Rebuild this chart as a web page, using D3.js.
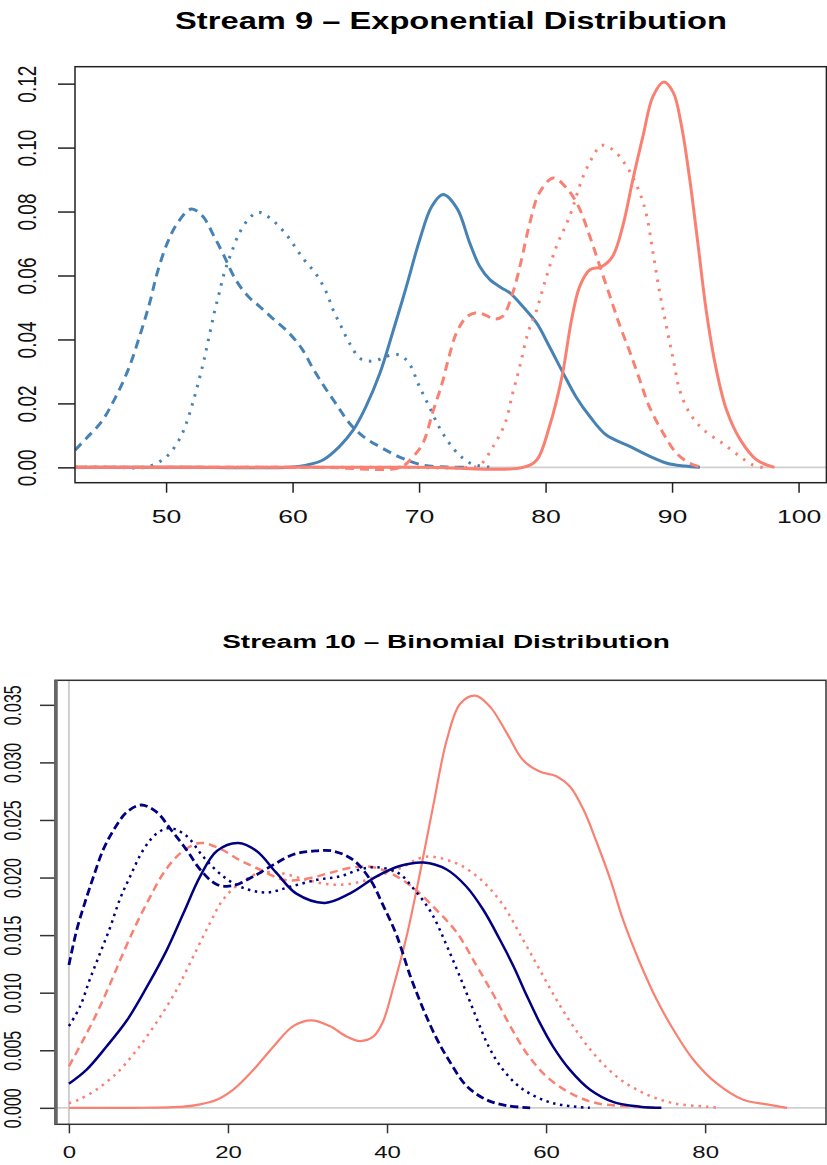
<!DOCTYPE html>
<html>
<head>
<meta charset="utf-8">
<script src="https://cdn.jsdelivr.net/npm/d3@7"></script>
<style>
  body { margin: 0; background: #fff; }
  svg { display: block; }
</style>
</head>
<body>
<div id="chart"></div>
<script>
// ---- Stream 9 : exponential, density curves as [x, density] ----
const exp_blue_solid = [[42.8,0],[52,0],[59.8,0],[61.1,0.0007],[62.4,0.0023],[63.7,0.0065],[64.8,0.0117],[65.8,0.019],[66.9,0.0294],[67.9,0.042],[69.0,0.0566],[70.05,0.0712],[71.0,0.0816],[71.9,0.0853],[73.0,0.081],[74.0,0.0702],[74.8,0.0628],[75.6,0.0587],[76.5,0.0562],[77.2,0.0545],[78.2,0.0503],[79.3,0.0451],[80.3,0.0378],[81.4,0.0294],[82.4,0.0221],[83.5,0.0159],[84.8,0.0101],[86.7,0.0065],[88.0,0.0039],[89.6,0.0013],[91.0,0.0004],[92.2,0]];
const exp_blue_dashed = [[42.8,0.0054],[43.7,0.0091],[44.9,0.0143],[45.9,0.0211],[47.0,0.0305],[47.9,0.0409],[48.7,0.0514],[49.3,0.0608],[50.1,0.0702],[50.9,0.0764],[52.0,0.0808],[52.9,0.0785],[53.8,0.0722],[54.6,0.066],[55.5,0.0587],[56.5,0.0534],[57.4,0.0503],[58.4,0.0467],[59.6,0.0425],[60.7,0.0373],[61.6,0.031],[62.5,0.0253],[63.5,0.0195],[64.5,0.0138],[65.6,0.0096],[67.1,0.006],[68.7,0.0028],[70.3,0.0007],[72.2,0.0001],[74.0,0]];
const exp_blue_dotted = [[42.8,0],[46,0],[48.3,0],[49.5,0.0018],[50.3,0.0044],[51.1,0.0091],[51.6,0.0138],[52.1,0.02],[52.6,0.0273],[53.0,0.0336],[53.4,0.0409],[53.8,0.0482],[54.2,0.0545],[54.6,0.0608],[55.15,0.067],[55.8,0.0733],[56.6,0.078],[57.3,0.0798],[58.2,0.078],[59.5,0.0728],[60.8,0.0655],[61.9,0.0602],[62.7,0.0545],[63.2,0.0493],[63.85,0.044],[64.5,0.0388],[65.4,0.0339],[66.5,0.0333],[67.4,0.0347],[68.4,0.0352],[69.2,0.0326],[70.0,0.0255],[70.8,0.019],[71.6,0.0125],[72.4,0.0075],[73.2,0.0038],[74.0,0.0014],[75.0,0.0003],[76.1,0]];
const exp_red_solid = [[42.8,0],[70,0],[78.2,0],[79.3,0.0023],[80.3,0.0127],[81.3,0.0284],[82.05,0.0461],[82.7,0.0566],[83.5,0.0618],[84.4,0.0627],[85.3,0.066],[86.1,0.0754],[86.9,0.09],[87.7,0.1036],[88.5,0.1161],[89.35,0.1205],[90.1,0.1172],[90.75,0.1067],[91.4,0.09],[92.07,0.0691],[92.73,0.0482],[93.5,0.0305],[94.3,0.018],[95.4,0.0086],[96.7,0.0023],[98.1,0]];
const exp_red_dashed = [[42.8,0],[62,0],[68.5,0],[69.4,0.0028],[70.3,0.0075],[71.1,0.0175],[71.8,0.026],[72.3,0.0336],[72.95,0.042],[73.8,0.0472],[74.6,0.0484],[75.3,0.0475],[75.9,0.0464],[76.6,0.0472],[77.4,0.0545],[78.1,0.065],[78.75,0.0764],[79.5,0.0858],[80.6,0.0905],[81.65,0.0874],[82.6,0.0816],[83.5,0.0722],[84.3,0.0628],[85.1,0.0534],[85.9,0.044],[86.7,0.0357],[87.45,0.0273],[88.2,0.019],[89.3,0.0107],[90.35,0.0044],[91.4,0.0013],[92.3,0]];
const exp_red_dotted = [[42.8,0],[68,0],[74.0,0],[74.8,0.0007],[75.85,0.0065],[76.8,0.0138],[77.4,0.0232],[77.96,0.0315],[78.6,0.042],[79.3,0.0493],[80.07,0.0597],[80.86,0.0691],[81.9,0.0785],[82.97,0.091],[83.76,0.0973],[84.4,0.1007],[85.3,0.0994],[86.4,0.0942],[87.45,0.0858],[88.0,0.0785],[88.5,0.067],[89.03,0.0545],[89.56,0.044],[90.1,0.0336],[90.6,0.0242],[91.4,0.0169],[92.5,0.0117],[94.0,0.0075],[95.4,0.0033],[96.4,0.0007],[97.2,0]];
const exp_xticks = [50, 60, 70, 80, 90, 100];
const exp_yticks = [0, 0.02, 0.04, 0.06, 0.08, 0.10, 0.12];

// ---- Stream 10 : binomial ----
const bin_navy_solid = [[0,0.0021],[2.2,0.0033],[4.7,0.0053],[7.3,0.0076],[9.8,0.0105],[12.3,0.0137],[14.4,0.0169],[16.5,0.0201],[18.6,0.0223],[21.3,0.023],[23.6,0.0223],[26.1,0.0204],[28.6,0.0186],[32.2,0.0178],[35.3,0.0186],[38.7,0.0201],[41.6,0.021],[44.6,0.0213],[47.5,0.0207],[50.0,0.0192],[52.1,0.0172],[54.2,0.0146],[55.9,0.0123],[57.6,0.0097],[59.2,0.0074],[60.9,0.0053],[63.0,0.0033],[65.5,0.0016],[68.5,0.0005],[71.8,0.0001],[74.5,0]];
const bin_navy_dashed = [[0,0.0124],[1.0,0.0155],[2.0,0.0178],[3.1,0.0201],[4.3,0.0224],[5.6,0.0241],[7.3,0.0257],[9.1,0.0263],[11.0,0.0257],[12.9,0.0241],[14.8,0.0224],[16.5,0.0207],[18.6,0.0194],[20.7,0.0193],[23.2,0.0201],[25.7,0.0211],[28.2,0.022],[30.7,0.0223],[33.2,0.0223],[35.8,0.0215],[37.9,0.0198],[39.5,0.0176],[41.2,0.015],[42.9,0.0115],[44.6,0.0085],[46.25,0.006],[47.9,0.004],[50.0,0.0019],[52.5,0.0007],[55.0,0.0002],[58.0,0]];
const bin_navy_dotted = [[0,0.0071],[1.4,0.0088],[2.6,0.0111],[3.9,0.0134],[5.2,0.0157],[6.4,0.0181],[7.7,0.0201],[9.35,0.0224],[11.0,0.0238],[12.7,0.0243],[14.8,0.0236],[16.9,0.0218],[19.4,0.0201],[21.9,0.0191],[24.9,0.0187],[27.8,0.0192],[31.2,0.0198],[34.1,0.0201],[36.6,0.0207],[38.7,0.0209],[41.4,0.0204],[43.5,0.0189],[45.6,0.0169],[47.5,0.0141],[49.4,0.011],[51.2,0.0079],[52.8,0.0053],[54.6,0.0033],[57.1,0.0016],[60.9,0.0004],[65.5,0]];
const bin_salmon_solid = [[0,0],[8,0],[14.4,0.0001],[16.5,0.0003],[18.6,0.0007],[20.7,0.0016],[23.2,0.0033],[25.7,0.0053],[28.2,0.0071],[30.5,0.0076],[32.8,0.0071],[34.9,0.0062],[36.6,0.0058],[38.3,0.0062],[39.5,0.0075],[40.8,0.0105],[42.5,0.015],[44.15,0.0204],[45.8,0.0262],[47.5,0.0319],[49.2,0.0351],[51.1,0.0358],[53.0,0.0348],[55.1,0.0325],[57.1,0.0302],[59.2,0.0292],[61.3,0.0288],[63.0,0.0279],[64.7,0.0259],[66.4,0.023],[68.1,0.0198],[69.7,0.0163],[71.8,0.0126],[73.9,0.0094],[76.0,0.0068],[78.5,0.0042],[81.5,0.0021],[84.8,0.0007],[87.8,0.0003],[90.3,0]];
const bin_salmon_dashed = [[0,0.0036],[1.8,0.0059],[3.5,0.0082],[5.2,0.0108],[6.8,0.0134],[8.5,0.016],[10.2,0.0183],[11.9,0.0204],[14.0,0.0221],[16.5,0.023],[19.0,0.0225],[21.5,0.0215],[24.0,0.0207],[27.0,0.0198],[29.9,0.0199],[32.8,0.0204],[35.8,0.0209],[38.3,0.0209],[41.2,0.0201],[43.5,0.019],[46.2,0.0172],[48.8,0.0152],[51.3,0.0123],[53.4,0.0098],[55.5,0.0071],[57.6,0.0047],[60.1,0.0027],[63.0,0.0013],[66.4,0.0004],[71.4,0.0001],[74.0,0]];
const bin_salmon_dotted = [[0,0.0004],[1.2,0.0007],[3.5,0.0016],[6.0,0.003],[8.5,0.005],[11.0,0.0074],[13.5,0.0102],[15.6,0.0131],[17.7,0.016],[19.4,0.0181],[21.5,0.0195],[24.0,0.0204],[26.5,0.0204],[29.9,0.0198],[32.8,0.0194],[35.8,0.0195],[38.7,0.0201],[41.6,0.0208],[44.8,0.0218],[48.5,0.0213],[51.5,0.02],[54.4,0.0178],[57.1,0.0146],[59.2,0.012],[61.3,0.0094],[63.4,0.0071],[66.0,0.0047],[68.9,0.0027],[72.2,0.0013],[76.0,0.0004],[80.2,0.0001],[82.0,0]];
const bin_xticks = [0, 20, 40, 60, 80];
const bin_yticks = [0, 0.005, 0.010, 0.015, 0.020, 0.025, 0.030, 0.035];

const W = 827, H = 1165;
const FONT = "'Liberation Sans', Arial, Helvetica, sans-serif";

const svg = d3.select("#chart").append("svg")
  .attr("width", W)
  .attr("height", H);

// text stretched horizontally like the picture
function addText(g, str, x, y, size, weight, target) {
  const t = g.append("text")
    .attr("font-family", FONT)
    .attr("font-size", size)
    .attr("font-weight", weight)
    .attr("text-anchor", "middle")
    .text(str);
  const w = t.node().getComputedTextLength();
  t.attr("transform", `translate(${x},${y}) scale(${target / w},1)`);
  return t;
}

function panel(opt) {
  const x = d3.scaleLinear().domain(opt.xdom).range([opt.left, opt.right]);
  const y = d3.scaleLinear().domain(opt.ydom).range([opt.bottom, opt.top]);

  const id = "clip" + opt.name;
  svg.append("clipPath").attr("id", id)
    .append("rect")
    .attr("x", opt.left).attr("y", opt.top)
    .attr("width", opt.right - opt.left).attr("height", opt.bottom - opt.top);

  // zero reference lines
  svg.append("line")
    .attr("x1", opt.left).attr("x2", opt.right)
    .attr("y1", y(0)).attr("y2", y(0))
    .attr("stroke", "#cfcfcf").attr("stroke-width", 1.6);
  if (opt.vzero) {
    svg.append("line")
      .attr("x1", x(0)).attr("x2", x(0))
      .attr("y1", opt.top).attr("y2", opt.bottom)
      .attr("stroke", "#cfcfcf").attr("stroke-width", 2);
  }

  const line = d3.line()
    .x(d => x(d[0]))
    .y(d => y(Math.max(0, d[1])))
    .curve(d3.curveCatmullRom.alpha(0.5));

  svg.append("g").attr("clip-path", `url(#${id})`)
    .selectAll("path")
    .data(opt.series)
    .enter()
    .append("path")
    .attr("d", d => line(d.values))
    .attr("fill", "none")
    .attr("stroke", d => d.color)
    .attr("stroke-width", d => d.width)
    .attr("stroke-dasharray", d => d.dash)
    .attr("stroke-linejoin", "round");

  // axes
  const gx = svg.append("g")
    .attr("transform", `translate(0,${opt.bottom})`)
    .style("color", opt.axisColor)
    .call(d3.axisBottom(x).tickValues(opt.xticks).tickSize(opt.xtick).tickFormat(d3.format("d")));
  gx.select(".domain").remove();
  gx.selectAll("line").attr("stroke-width", 1.5);
  gx.selectAll("text")
    .attr("y", null).attr("dy", null)
    .attr("fill", "#111")
    .attr("font-family", FONT)
    .attr("font-size", opt.tickFont)
    .attr("transform", `translate(0,${opt.xlabOff}) scale(${opt.sx},1)`);

  const gy = svg.append("g")
    .attr("transform", `translate(${opt.left},0)`)
    .style("color", opt.axisColor)
    .call(d3.axisLeft(y).tickValues(opt.yticks).tickSize(opt.ytick).tickFormat(d3.format(opt.yfmt)));
  gy.select(".domain").remove();
  gy.selectAll("line").attr("stroke-width", 1.5);
  gy.selectAll("text")
    .attr("x", 0).attr("dy", "0.36em")
    .attr("fill", "#111")
    .attr("text-anchor", "middle")
    .attr("font-family", FONT)
    .attr("font-size", opt.tickFont)
    .attr("transform", `translate(${opt.ylabOff},0) scale(${opt.sx},1) rotate(-90)`);

  // box
  svg.append("rect")
    .attr("x", opt.left).attr("y", opt.top)
    .attr("width", opt.right - opt.left).attr("height", opt.bottom - opt.top)
    .attr("fill", "none")
    .attr("stroke", opt.boxColor)
    .attr("stroke-width", 1.5);
  if (opt.thickLeft) {
    svg.append("line")
      .attr("x1", opt.left + 1).attr("x2", opt.left + 1)
      .attr("y1", opt.top).attr("y2", opt.bottom)
      .attr("stroke", "#666").attr("stroke-width", 3.5);
  }

  addText(svg, opt.title, opt.titleX, opt.titleY, opt.titleFont, "bold", opt.titleW);
}

const steel = "#4682B4", salmon = "#FA8072", navy = "#000080";

panel({
  name: "a",
  title: "Stream 9 \u2013 Exponential Distribution",
  titleX: 451, titleY: 29, titleFont: 23, titleW: 552,
  left: 75, right: 826.4, top: 66.7, bottom: 482.7,
  xdom: [42.8, 102.2], ydom: [-0.0048, 0.1253],
  xticks: exp_xticks, yticks: exp_yticks, yfmt: ".2f",
  xtick: 10, ytick: 17, xlabOff: 40.5, ylabOff: -49,
  tickFont: 19, sx: 1.4,
  axisColor: "#222", boxColor: "#222",
  series: [
    { values: exp_blue_dashed, color: steel, width: 3, dash: "9,6" },
    { values: exp_blue_dotted, color: steel, width: 3, dash: "2.5,7" },
    { values: exp_blue_solid, color: steel, width: 3, dash: null },
    { values: exp_red_dashed, color: salmon, width: 3, dash: "9,6" },
    { values: exp_red_dotted, color: salmon, width: 3, dash: "2.5,7" },
    { values: exp_red_solid, color: salmon, width: 3, dash: null }
  ]
});

panel({
  name: "b",
  title: "Stream 10 \u2013 Binomial Distribution",
  titleX: 446, titleY: 648, titleFont: 19, titleW: 448,
  left: 55, right: 826, top: 680.3, bottom: 1124.3,
  xdom: [-1.75, 95.2], ydom: [-0.00143, 0.03713],
  xticks: bin_xticks, yticks: bin_yticks, yfmt: ".3f",
  xtick: 9, ytick: 15, xlabOff: 33.5, ylabOff: -43,
  tickFont: 16, sx: 1.5,
  axisColor: "#333", boxColor: "#333", vzero: true, thickLeft: true,
  series: [
    { values: bin_salmon_solid, color: salmon, width: 2.2, dash: null },
    { values: bin_salmon_dotted, color: salmon, width: 2.5, dash: "2.5,5" },
    { values: bin_salmon_dashed, color: salmon, width: 2.5, dash: "8,5" },
    { values: bin_navy_dotted, color: navy, width: 2.5, dash: "2.5,4.5" },
    { values: bin_navy_dashed, color: navy, width: 2.8, dash: "8,4" },
    { values: bin_navy_solid, color: navy, width: 2.5, dash: null }
  ]
});
</script>
</body>
</html>
